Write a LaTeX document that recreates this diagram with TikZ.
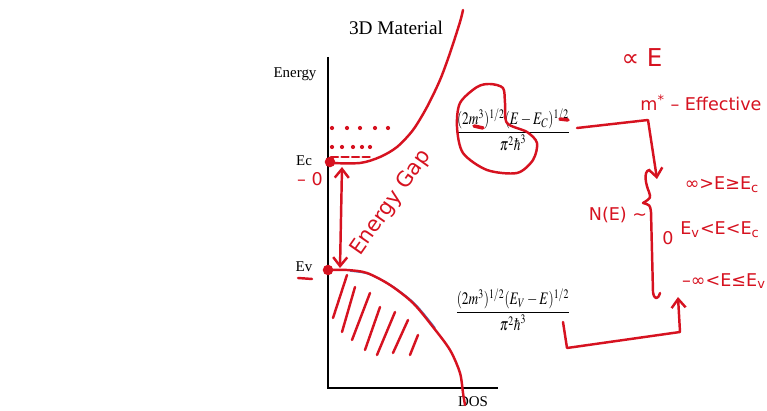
\documentclass[tikz,border=0pt]{standalone}
\usepackage{amsmath}
\usepackage{mathptmx}
\usepackage[no-math]{fontspec}
\usepackage{graphicx}
\setmainfont{Liberation Serif}
\newfontfamily\hand{DejaVu Sans}
\usepackage{tikz}
\usetikzlibrary{arrows.meta, positioning, calc}
\definecolor{pen}{RGB}{214,18,32}
\definecolor{printblue}{RGB}{80,130,200}
\tikzstyle{ink} = [draw=pen, line width=1.4pt, line cap=round, line join=round]
\tikzstyle{arrow} = [ink, -{Straight Barb[length=5pt,width=8pt]}]
\tikzstyle{axisline} = [line width=1.1pt]
\tikzstyle{slidetext} = [font=\fontsize{8.5}{10}\selectfont, inner sep=0pt]
\tikzstyle{formula} = [font=\fontsize{10}{12}\selectfont, inner sep=0pt]
\tikzstyle{note} = [text=pen, font=\hand\fontsize{10}{12}\selectfont, inner sep=0pt]
\tikzstyle{inkdot} = [circle, fill=pen, inner sep=0pt, minimum size=6pt]

\begin{document}
\begin{tikzpicture}[x=0.02cm, y=-0.02cm]
\useasboundingbox (0,0) rectangle (767,411);

% printed slide
\node (title) [font=\fontsize{11}{13}\selectfont, inner sep=0pt] at (396,28) {3D Material};
\coordinate (top) at (328,57);
\coordinate (origin) at (328,388);
\coordinate (right) at (498,388);
\draw [axisline] (top) -- (origin) -- (right);
\node (energy) [slidetext] at (295,74) {Energy};
\node (ec) [slidetext] at (304,161) {Ec};
\node (ev) [slidetext] at (304,267) {Ev};
\node (dos) [slidetext] at (473,402) {DOS};
\node (dosc) [formula] at (513,130) {\scalebox{0.76}[1]{$\dfrac{(2m^3)^{1/2}(E-E_C)^{1/2}}{\pi^2\hbar^3}$}};
\node (dosv) [formula] at (513,310) {\scalebox{0.76}[1]{$\dfrac{(2m^3)^{1/2}(E_V-E)^{1/2}}{\pi^2\hbar^3}$}};
\draw [printblue, line width=1pt] plot[smooth] coordinates {(350,271) (369,274) (392,286) (415,304) (435,328)};

% band edges
\node (ecdot) [inkdot] at (330,162) {};
\node (evdot) [inkdot] at (328,270) {};
\draw [ink] plot[smooth] coordinates {(330,163) (360,163) (380,157) (397,147) (413,130) (427,107) (440,80) (450,53) (460,22) (463,10)};
\draw [ink] plot[smooth] coordinates {(328,270) (347,270) (367,273) (390,285) (413,303) (433,327) (450,350) (460,373) (463,393) (465,405)};
\draw [ink, dash pattern=on 4pt off 2pt] (331,157) -- (372,157);
\foreach \x in {332,342,353,362,370}
  \fill [pen] (\x,147) circle (1.2pt);
\foreach \x in {332,347,360,375,388}
  \fill [pen] (\x,128) circle (1.2pt);
\foreach \xa/\ya/\xb/\yb in {347/275/333/318, 355/287/342/332, 370/293/352/340, 380/307/365/350, 395/312/377/355, 408/320/393/353, 418/335/410/355}
  \draw [ink] (\xa,\ya) -- (\xb,\yb);

% energy gap
\coordinate (gaptop) at (342,167);
\coordinate (gapbot) at (340,268);
\draw [ink, {Straight Barb[length=5pt,width=8pt]}-{Straight Barb[length=5pt,width=8pt]}] (gaptop) -- (gapbot);
\node (gap) [note, rotate=55, font=\hand\fontsize{12}{14}\selectfont] at (391,203) {Energy Gap};
\node (zero) [note] at (310,179) {–\,\,0};
\draw [ink] (298,278) -- (312,279);

% marks on the formula
\draw [ink] plot[smooth cycle] coordinates {(490,84) (503,88) (505,103) (507,123) (527,132) (537,143) (533,160) (517,173) (487,170) (463,153) (457,127) (460,103) (477,87)};
\draw [ink, line width=2pt] (474,126) -- (483,128);
\draw [ink, line width=2pt] (560,119) -- (568,120);

% notes on the right
\node (prop) [note, font=\hand\fontsize{14}{16}\selectfont] at (642,58) {∝ E};
\node (mass) [note] at (701,103) {m\textsuperscript{*} – Effective};
\node (ne) [note] at (618,215) {N(E) \textasciitilde};
\node (case1) [note] at (722,185) {∞>E≥E\textsubscript{c}};
\node (case0) [note] at (668,238) {0};
\node (case2) [note] at (720,230) {E\textsubscript{v}<E<E\textsubscript{c}};
\node (case3) [note] at (724,281) {–∞<E≤E\textsubscript{v}};

\coordinate (upstart) at (577,128);
\coordinate (upcorner) at (648,120);
\coordinate (upend) at (657,179);
\draw [arrow] (upstart) -- (upcorner) -- (upend);
\coordinate (lowstart) at (563,322);
\coordinate (lowcorner) at (567,348);
\coordinate (lowturn) at (680,332);
\coordinate (lowend) at (678,297);
\draw [arrow] (lowstart) -- (lowcorner) -- (lowturn) -- (lowend);

\draw [ink] (649,170) .. controls (643,172) and (646,185) .. (649,192) .. controls (651,198) .. (643,203) .. controls (650,205) .. (651,212) -- (653,292) .. controls (654,300) and (658,300) .. (660,293);
\end{tikzpicture}
\end{document}
